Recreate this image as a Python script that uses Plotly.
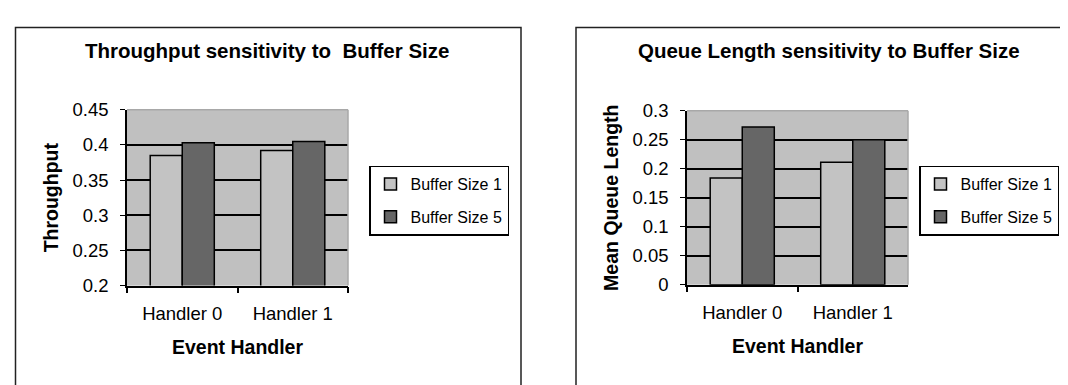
import plotly.graph_objects as go

# ---------------- data ----------------
handlers = ["Handler 0", "Handler 1"]
series_names = ["Buffer Size 1", "Buffer Size 5"]

throughput_bs1 = [0.385, 0.392]
throughput_bs5 = [0.403, 0.405]

queue_bs1 = [0.184, 0.211]
queue_bs5 = [0.272, 0.250]

thr_tickvals = [0.2, 0.25, 0.3, 0.35, 0.4, 0.45]
thr_ticktext = ["0.2", "0.25", "0.3", "0.35", "0.4", "0.45"]
q_tickvals = [0, 0.05, 0.1, 0.15, 0.2, 0.25, 0.3]
q_ticktext = ["0", "0.05", "0.1", "0.15", "0.2", "0.25", "0.3"]

title_left = "Throughput sensitivity to  Buffer Size"
title_right = "Queue Length sensitivity to Buffer Size"
xtitle = "Event Handler"
ytitle_left = "Throughput"
ytitle_right = "Mean Queue Length"

# ---------------- styling ----------------
W, H = 1068, 385
FONT = "Arial, Liberation Sans, sans-serif"
LIGHT = "#c3c3c3"
DARK = "#666666"
PLOTBG = "#c0c0c0"


def px(x):
    return x / W


def py(y):
    return 1 - y / H


fig = go.Figure()

bar_line = dict(color="black", width=1.5)
fig.add_trace(go.Bar(x=handlers, y=throughput_bs1, name=series_names[0],
                     marker=dict(color=LIGHT, line=bar_line),
                     xaxis="x", yaxis="y", legend="legend", legendgroup="a"))
fig.add_trace(go.Bar(x=handlers, y=throughput_bs5, name=series_names[1],
                     marker=dict(color=DARK, line=bar_line),
                     xaxis="x", yaxis="y", legend="legend", legendgroup="b"))
fig.add_trace(go.Bar(x=handlers, y=queue_bs1, name=series_names[0],
                     marker=dict(color=LIGHT, line=bar_line),
                     xaxis="x2", yaxis="y2", legend="legend2", legendgroup="c"))
fig.add_trace(go.Bar(x=handlers, y=queue_bs5, name=series_names[1],
                     marker=dict(color=DARK, line=bar_line),
                     xaxis="x2", yaxis="y2", legend="legend2", legendgroup="d"))

tickfont = dict(family=FONT, size=18.5, color="black")
titlefont = dict(family=FONT, size=19.5, color="black", weight="bold")

xcommon = dict(type="category", showline=True, linecolor="black", linewidth=1.5,
               ticks="outside", ticklen=6, tickcolor="black", tickwidth=1.5,
               tickson="boundaries", showgrid=False, tickfont=tickfont,
               ticklabelstandoff=10,
               title=dict(text=xtitle, font=titlefont, standoff=18))
ycommon = dict(showline=True, linecolor="black", linewidth=1.5,
               ticks="outside", ticklen=5, tickcolor="black", tickwidth=1,
               showgrid=True, gridcolor="black", gridwidth=1.5,
               zeroline=False, tickfont=tickfont, ticklabelstandoff=8)

legfont = dict(family=FONT, size=16, color="black")

fig.update_layout(
    width=W, height=H,
    margin=dict(l=0, r=0, t=0, b=0),
    paper_bgcolor="white",
    plot_bgcolor=PLOTBG,
    barmode="group", bargap=0.42, bargroupgap=0,
    font=dict(family=FONT, color="black"),
    xaxis=dict(domain=[px(119), px(340)], anchor="y", **xcommon),
    yaxis=dict(domain=[py(282), py(96)], anchor="x", range=[0.2, 0.45],
               tickvals=thr_tickvals, ticktext=thr_ticktext,
               title=dict(text=ytitle_left, font=titlefont, standoff=9),
               **ycommon),
    xaxis2=dict(domain=[px(679), px(900)], anchor="y2", **xcommon),
    yaxis2=dict(domain=[py(281), py(97)], anchor="x2", range=[0, 0.3],
                tickvals=q_tickvals, ticktext=q_ticktext,
                title=dict(text=ytitle_right, font=titlefont, standoff=9),
                **ycommon),
    legend=dict(x=px(361), y=py(155), xanchor="left", yanchor="top",
                bgcolor="white", bordercolor="black", borderwidth=1.5,
                font=legfont, tracegroupgap=9, itemwidth=30,
                traceorder="grouped"),
    legend2=dict(x=px(911), y=py(155), xanchor="left", yanchor="top",
                 bgcolor="white", bordercolor="black", borderwidth=1.5,
                 font=legfont, tracegroupgap=9, itemwidth=30,
                 traceorder="grouped"),
    showlegend=True,
)

# chart titles
fig.add_annotation(text=title_left, x=px(259), y=py(33), xref="paper", yref="paper",
                   showarrow=False, xanchor="center", yanchor="middle",
                   font=dict(family=FONT, size=20.5, color="black", weight="bold"))
fig.add_annotation(text=title_right, x=px(821), y=py(33), xref="paper", yref="paper",
                   showarrow=False, xanchor="center", yanchor="middle",
                   font=dict(family=FONT, size=20.5, color="black", weight="bold"))

# plot-area top/right border (gray)
for xr, yr in (("x domain", "y domain"), ("x2 domain", "y2 domain")):
    fig.add_shape(type="line", xref=xr, yref=yr, x0=0, x1=1, y0=1, y1=1,
                  line=dict(color="#a8a8a8", width=1.5), layer="above")
    fig.add_shape(type="line", xref=xr, yref=yr, x0=1, x1=1, y0=0, y1=1,
                  line=dict(color="#a8a8a8", width=1.5), layer="above")

# chart frames
fig.add_shape(type="rect", xref="paper", yref="paper",
              x0=px(7.5), x1=px(513), y0=-0.2, y1=py(9),
              line=dict(color="#222222", width=1.5), layer="below")
fig.add_shape(type="rect", xref="paper", yref="paper",
              x0=px(568), x1=1.2, y0=-0.2, y1=py(9),
              line=dict(color="#222222", width=1.5), layer="below")

fig.write_html("out.html")
